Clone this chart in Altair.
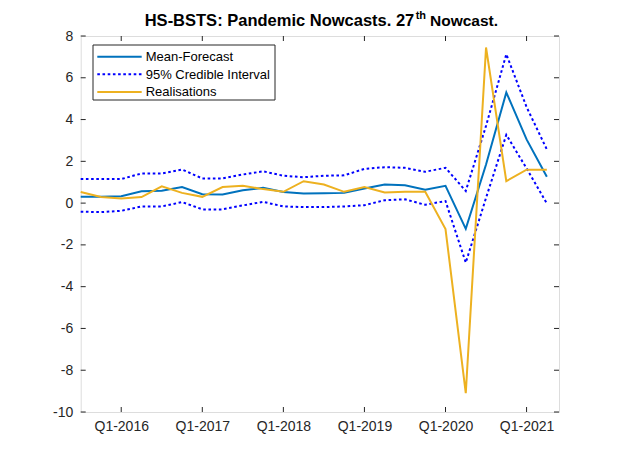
import altair as alt
import pandas as pd

# ---- data ----
quarter_idx = list(range(24))  # 0 = Q3-2015 ... 23 = Q2-2021
mean_fc = [0.30, 0.30, 0.33, 0.57, 0.59, 0.77, 0.43, 0.41, 0.62, 0.73, 0.53, 0.46,
           0.47, 0.49, 0.70, 0.89, 0.85, 0.64, 0.83, -1.23, 1.85, 5.30, 3.05, 1.26]
ci_upper = [1.15, 1.15, 1.15, 1.42, 1.42, 1.61, 1.18, 1.18, 1.37, 1.52, 1.31, 1.24,
            1.31, 1.33, 1.64, 1.72, 1.69, 1.50, 1.69, 0.58, 3.70, 7.13, 4.60, 2.57]
ci_lower = [-0.41, -0.43, -0.37, -0.16, -0.16, 0.05, -0.30, -0.30, -0.11, 0.06, -0.16, -0.19,
            -0.19, -0.16, -0.10, 0.14, 0.18, -0.08, 0.10, -2.85, 0.25, 3.27, 1.66, -0.02]
realised = [0.53, 0.29, 0.22, 0.29, 0.80, 0.49, 0.30, 0.77, 0.83, 0.67, 0.54, 1.05,
            0.89, 0.54, 0.77, 0.51, 0.54, 0.54, -1.24, -9.10, 7.45, 1.05, 1.60, 1.60]

xtick_vals = [2, 6, 10, 14, 18, 22]
xtick_labels = ["Q1-2016", "Q1-2017", "Q1-2018", "Q1-2019", "Q1-2020", "Q1-2021"]
ytick_vals = [-10, -8, -6, -4, -2, 0, 2, 4, 6, 8]
legend_labels = ["Mean-Forecast", "95% Credible Interval", "Realisations"]

W, H = 478.3, 376
AX = "#262626"
FONT = "Liberation Sans"
C_MEAN, C_CI, C_REAL = "#0072BD", "#0000FF", "#EDB120"

df_mean = pd.DataFrame({"q": quarter_idx, "v": mean_fc})
df_real = pd.DataFrame({"q": quarter_idx, "v": realised})
df_ci = pd.concat([
    pd.DataFrame({"q": quarter_idx, "v": ci_upper, "b": "upper"}),
    pd.DataFrame({"q": quarter_idx, "v": ci_lower, "b": "lower"}),
])
df_xt = pd.DataFrame({"t": xtick_vals})
df_yt = pd.DataFrame({"t": ytick_vals})
one = pd.DataFrame({"k": [0]})

lbl_arr = "[" + ",".join("'%s'" % s for s in xtick_labels) + "]"
val_arr = "[" + ",".join(str(v) for v in xtick_vals) + "]"

xscale = alt.Scale(domain=[0, 23.6], nice=False, zero=False)
yscale = alt.Scale(domain=[-10, 8], nice=False, zero=False)

X = alt.X("q:Q", scale=xscale, title=None,
          axis=alt.Axis(values=xtick_vals, labelExpr=f"{lbl_arr}[indexof({val_arr}, datum.value)]",
                        ticks=False, domain=False, grid=False, labelFontSize=14,
                        labelColor=AX, labelFont=FONT, labelPadding=7))
Y = alt.Y("v:Q", scale=yscale, title=None,
          axis=alt.Axis(values=ytick_vals, labelExpr="datum.value + ''",
                        ticks=False, domain=False, grid=False, labelFontSize=14,
                        labelColor=AX, labelFont=FONT, labelPadding=8))

mean_line = alt.Chart(df_mean).mark_line(color=C_MEAN, strokeWidth=2).encode(x=X, y=Y)
ci_lines = alt.Chart(df_ci).mark_line(color=C_CI, strokeWidth=2, strokeDash=[2.6, 2.6],
                                      strokeCap="butt").encode(
    x=alt.X("q:Q", scale=xscale), y=alt.Y("v:Q", scale=yscale), detail="b:N")
real_line = alt.Chart(df_real).mark_line(color=C_REAL, strokeWidth=2).encode(
    x=alt.X("q:Q", scale=xscale), y=alt.Y("v:Q", scale=yscale))

# inward ticks on all four sides
tk = dict(color=AX, strokeWidth=1)
xt_b = alt.Chart(df_xt).mark_rule(**tk).encode(x=alt.X("t:Q", scale=xscale), y=alt.value(H), y2=alt.value(H - 5))
xt_t = alt.Chart(df_xt).mark_rule(**tk).encode(x=alt.X("t:Q", scale=xscale), y=alt.value(0), y2=alt.value(5))
yt_l = alt.Chart(df_yt).mark_rule(**tk).encode(y=alt.Y("t:Q", scale=yscale), x=alt.value(0), x2=alt.value(5))
yt_r = alt.Chart(df_yt).mark_rule(**tk).encode(y=alt.Y("t:Q", scale=yscale), x=alt.value(W), x2=alt.value(W - 5))

# legend box
lg_box = alt.Chart(one).mark_rect(fill="white", stroke=AX, strokeWidth=1).encode(
    x=alt.value(12.3), x2=alt.value(194.3), y=alt.value(9), y2=alt.value(64))
rows_y = [20.7, 38.3, 55.9]
lg_items = []
styles = [dict(color=C_MEAN), dict(color=C_CI, strokeDash=[2.6, 2.6], strokeCap="butt"), dict(color=C_REAL)]
for lab, yy, st in zip(legend_labels, rows_y, styles):
    lg_items.append(alt.Chart(one).mark_rule(strokeWidth=2, **st).encode(
        x=alt.value(16.6), x2=alt.value(61), y=alt.value(yy)))
    lg_items.append(alt.Chart(one).mark_text(align="left", baseline="middle", fontSize=13,
                                             font=FONT, color="black").encode(
        x=alt.value(65), y=alt.value(yy + 0.5), text=alt.value(lab)))

# title with superscript
tt = dict(fontWeight="bold", font=FONT, color="black")
t1 = alt.Chart(one).mark_text(align="right", baseline="alphabetic", fontSize=16.5, **tt).encode(
    x=alt.value(333.6), y=alt.value(-10.3), text=alt.value("HS-BSTS: Pandemic Nowcasts. 27"))
t2 = alt.Chart(one).mark_text(align="left", baseline="alphabetic", fontSize=11, **tt).encode(
    x=alt.value(335), y=alt.value(-16.7), text=alt.value("th"))
t3 = alt.Chart(one).mark_text(align="left", baseline="alphabetic", fontSize=15.5, **tt).encode(
    x=alt.value(349.3), y=alt.value(-10.3), text=alt.value("Nowcast."))

chart = alt.layer(
    mean_line, ci_lines, real_line, xt_b, xt_t, yt_l, yt_r, lg_box, *lg_items, t1, t2, t3
).properties(
    width=W, height=H,
    autosize=alt.AutoSizeParams(type="none"),
    padding={"left": 72.7, "top": 28, "right": 52, "bottom": 44},
).configure_view(stroke=AX, strokeWidth=1).configure(background="white")

chart.save("out.html", embed_options={"renderer": "svg", "actions": False})
